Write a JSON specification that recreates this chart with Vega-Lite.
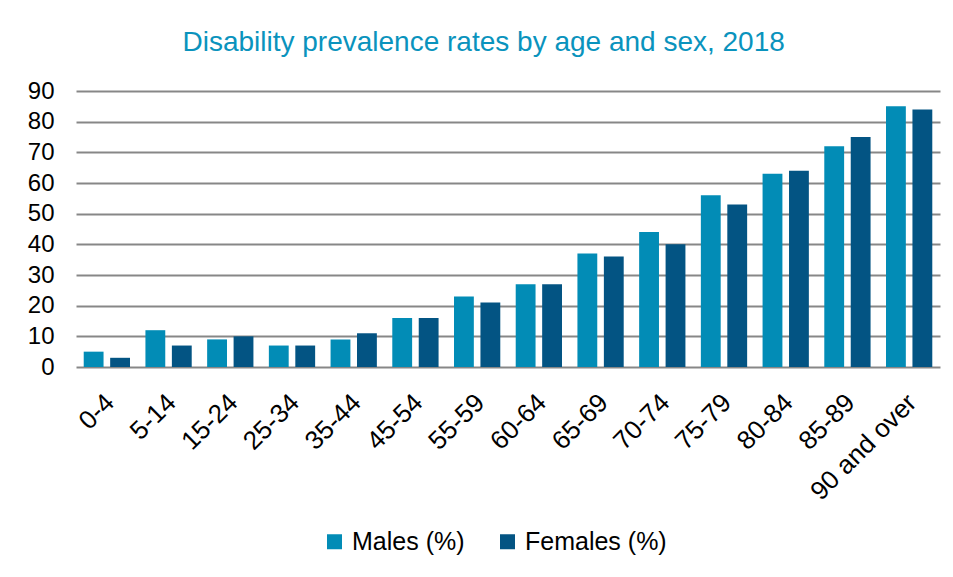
{
  "$schema": "https://vega.github.io/schema/vega-lite/v6.json",
  "width": 864,
  "height": 276,
  "autosize": {"type": "none"},
  "padding": {"left": 76, "top": 91, "right": 13, "bottom": 210},
  "background": "white",
  "title": {
    "text": "Disability prevalence rates by age and sex, 2018",
    "font": "Liberation Sans",
    "fontSize": 28,
    "fontWeight": "normal",
    "color": "#0a93bd",
    "frame": "bounds",
    "anchor": "middle",
    "offset": 22
  },
  "data": {
    "values": [
      {"age": "0-4", "sex": "Males (%)", "value": 5},
      {"age": "0-4", "sex": "Females (%)", "value": 3},
      {"age": "5-14", "sex": "Males (%)", "value": 12},
      {"age": "5-14", "sex": "Females (%)", "value": 7},
      {"age": "15-24", "sex": "Males (%)", "value": 9},
      {"age": "15-24", "sex": "Females (%)", "value": 10},
      {"age": "25-34", "sex": "Males (%)", "value": 7},
      {"age": "25-34", "sex": "Females (%)", "value": 7},
      {"age": "35-44", "sex": "Males (%)", "value": 9},
      {"age": "35-44", "sex": "Females (%)", "value": 11},
      {"age": "45-54", "sex": "Males (%)", "value": 16},
      {"age": "45-54", "sex": "Females (%)", "value": 16},
      {"age": "55-59", "sex": "Males (%)", "value": 23},
      {"age": "55-59", "sex": "Females (%)", "value": 21},
      {"age": "60-64", "sex": "Males (%)", "value": 27},
      {"age": "60-64", "sex": "Females (%)", "value": 27},
      {"age": "65-69", "sex": "Males (%)", "value": 37},
      {"age": "65-69", "sex": "Females (%)", "value": 36},
      {"age": "70-74", "sex": "Males (%)", "value": 44},
      {"age": "70-74", "sex": "Females (%)", "value": 40},
      {"age": "75-79", "sex": "Males (%)", "value": 56},
      {"age": "75-79", "sex": "Females (%)", "value": 53},
      {"age": "80-84", "sex": "Males (%)", "value": 63},
      {"age": "80-84", "sex": "Females (%)", "value": 64},
      {"age": "85-89", "sex": "Males (%)", "value": 72},
      {"age": "85-89", "sex": "Females (%)", "value": 75},
      {"age": "90 and over", "sex": "Males (%)", "value": 85},
      {"age": "90 and over", "sex": "Females (%)", "value": 84}
    ]
  },
  "mark": {"type": "bar"},
  "encoding": {
    "x": {
      "field": "age",
      "type": "nominal",
      "sort": null,
      "scale": {"paddingInner": 0.25, "paddingOuter": 0.125},
      "axis": {
        "title": null,
        "labelAngle": -45,
        "labelAlign": "right",
        "labelBaseline": "top",
        "labelFont": "Liberation Sans",
        "labelFontSize": 26,
        "labelColor": "#000000",
        "labelPadding": 22,
        "labelOffset": -6,
        "ticks": false,
        "domain": false
      }
    },
    "xOffset": {
      "field": "sex",
      "type": "nominal",
      "sort": ["Males (%)", "Females (%)"],
      "scale": {"paddingInner": 0.25}
    },
    "y": {
      "field": "value",
      "type": "quantitative",
      "scale": {"domain": [0, 90]},
      "axis": {
        "title": null,
        "values": [0, 10, 20, 30, 40, 50, 60, 70, 80, 90],
        "labelFont": "Liberation Sans",
        "labelFontSize": 24,
        "labelColor": "#000000",
        "labelPadding": 22,
        "ticks": false,
        "domain": false,
        "grid": true,
        "gridColor": "#878787",
        "gridWidth": 1.8
      }
    },
    "color": {
      "field": "sex",
      "type": "nominal",
      "sort": ["Males (%)", "Females (%)"],
      "scale": {"domain": ["Males (%)", "Females (%)"], "range": ["#028cb6", "#035483"]},
      "legend": {
        "title": null,
        "orient": "none",
        "legendX": 246,
        "legendY": 438,
        "direction": "horizontal",
        "symbolType": "square",
        "symbolSize": 225,
        "symbolStrokeWidth": 0,
        "labelFont": "Liberation Sans",
        "labelFontSize": 25,
        "labelColor": "#000000",
        "labelOffset": 5,
        "columnPadding": 30
      }
    }
  },
  "config": {
    "view": {"stroke": null}
  }
}
